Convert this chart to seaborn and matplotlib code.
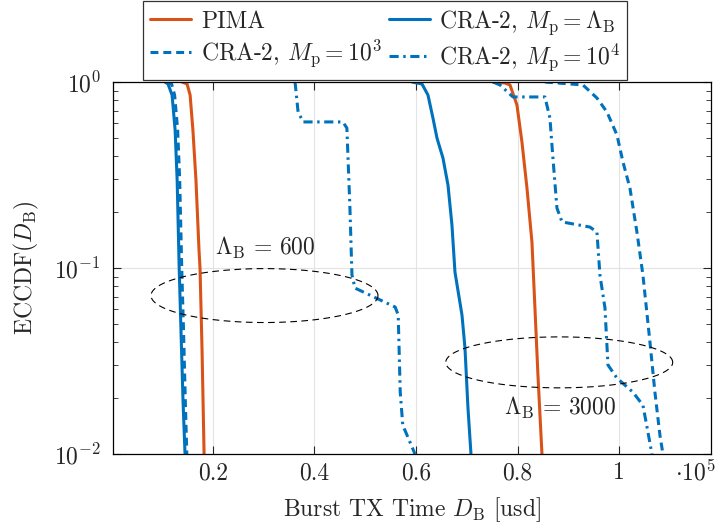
import numpy as np
import pandas as pd
import matplotlib
matplotlib.use("Agg")
import matplotlib.pyplot as plt
import seaborn as sns
from matplotlib.ticker import FixedLocator, FuncFormatter, LogLocator

sns.set_theme(style="ticks")
plt.rcParams["font.family"] = ["cmr10", "DejaVu Serif"]
plt.rcParams["mathtext.fontset"] = "cm"
plt.rcParams["axes.formatter.use_mathtext"] = True
FS = 17
plt.rcParams["font.size"] = FS

ORANGE = "#D95319"
BLUE = "#0072BD"

# --- data (x in usd, y = ECCDF) ---
# Lambda_B = 600
pima_600_x = [13950, 14950, 15550, 16100, 16700, 17300, 17500, 17900, 18300]
pima_600_y = [1.0, 0.976, 0.851, 0.552, 0.297, 0.125, 0.100, 0.0362, 0.01]
cra_lb_600_x = [10600, 11200, 12000, 12600, 13000, 13400, 13750, 14150, 14550]
cra_lb_600_y = [1.0, 0.976, 0.851, 0.552, 0.297, 0.100, 0.0464, 0.0195, 0.01]
cra_1e3_600_x = [11000, 11900, 12500, 13100, 13500, 13900, 14250, 14600, 14900]
cra_1e3_600_y = [1.0, 0.976, 0.851, 0.552, 0.297, 0.100, 0.0464, 0.0195, 0.01]
cra_1e4_600_x = [36200, 36800, 37800, 45600, 46400, 47000, 47400, 48000,
                 55900, 56500, 56900, 57400, 59800]
cra_1e4_600_y = [1.0, 0.69, 0.61, 0.61, 0.566, 0.21, 0.0917, 0.078,
                 0.0617, 0.0559, 0.0215, 0.0143, 0.01]

# Lambda_B = 3000
pima_3000_x = [75150, 77500, 78500, 79870, 80850, 81840, 82820, 83410, 84000, 84790]
pima_3000_y = [1.0, 0.988, 0.964, 0.752, 0.476, 0.269, 0.138, 0.061, 0.0266, 0.01]
cra_lb_3000_x = [59200, 61180, 62360, 63340, 64130, 65310, 66300, 67080,
                 67670, 69050, 69640, 70230, 70820]
cra_lb_3000_y = [1.0, 0.976, 0.851, 0.640, 0.500, 0.390, 0.279, 0.170,
                 0.0952, 0.0559, 0.0372, 0.0177, 0.01]
cra_1e3_3000_x = [85380, 92860, 95610, 97580, 99550, 100730, 102100, 103480,
                  104660, 106040, 107020, 108010, 108600]
cra_1e3_3000_y = [1.0, 0.964, 0.820, 0.690, 0.519, 0.372, 0.269, 0.156,
                  0.0917, 0.040, 0.0215, 0.0126, 0.01]
cra_1e4_3000_x = [75150, 76530, 79080, 85380, 86360, 86950, 87740, 88730, 94230,
                  95610, 96200, 97190, 97780, 99550, 102690, 104660, 105650, 106430]
cra_1e4_3000_y = [1.0, 0.964, 0.831, 0.831, 0.640, 0.390, 0.210, 0.177, 0.166,
                  0.156, 0.0917, 0.061, 0.0301, 0.0256, 0.0215, 0.0183, 0.0131, 0.01]

# annotation ellipses: center x, center y, half width (usd), half height (decades)
ell_600 = (30190, 0.0711, 22330, 0.145)
ell_3000 = (88190, 0.0311, 22330, 0.137)

x_ticks = [20000, 40000, 60000, 80000, 100000]

# --- plotting ---
fig = plt.figure(figsize=(7.2, 5.25), dpi=100)
ax = fig.add_axes([0.1574, 0.1352, 0.8297, 0.7086])

lw = 2.2
dashed = (0, (2.6, 1.6))
dashdot = (0, (3.0, 1.5, 0.8, 1.5))

series = [
    (pima_600_x, pima_600_y, ORANGE, "-", "PIMA"),
    (cra_lb_600_x, cra_lb_600_y, BLUE, "-", r"CRA-2, $M_\mathrm{p} = \Lambda_\mathrm{B}$"),
    (cra_1e3_600_x, cra_1e3_600_y, BLUE, dashed, r"CRA-2, $M_\mathrm{p} = 10^3$"),
    (cra_1e4_600_x, cra_1e4_600_y, BLUE, dashdot, r"CRA-2, $M_\mathrm{p} = 10^4$"),
    (pima_3000_x, pima_3000_y, ORANGE, "-", None),
    (cra_lb_3000_x, cra_lb_3000_y, BLUE, "-", None),
    (cra_1e3_3000_x, cra_1e3_3000_y, BLUE, dashed, None),
    (cra_1e4_3000_x, cra_1e4_3000_y, BLUE, dashdot, None),
]

handles = {}
for xs, ys, col, ls, lab in series:
    df = pd.DataFrame({"x": xs, "y": ys})
    sns.lineplot(data=df, x="x", y="y", sort=False, estimator=None, ax=ax,
                 color=col, linestyle=ls, linewidth=lw, legend=False)
    if lab is not None:
        handles[lab] = ax.get_lines()[-1]

# dashed ellipses around the two groups
t = np.linspace(0, 2 * np.pi, 300)
for cx, cy, a, b in [ell_600, ell_3000]:
    ax.plot(cx + a * np.cos(t), 10 ** (np.log10(cy) + b * np.sin(t)),
            color="black", linewidth=0.8, linestyle=(0, (6, 4)))

ax.text(30300, 0.128, r"$\Lambda_\mathrm{B}\,=\,600$", ha="center", va="center", fontsize=FS)
ax.text(88400, 0.0177, r"$\Lambda_\mathrm{B}\,=\,3000$", ha="center", va="center", fontsize=FS)

ax.set_yscale("log")
ax.set_ylim(1e-2, 1)
ax.set_xlim(440, 118000)
ax.xaxis.set_major_locator(FixedLocator(x_ticks))
ax.xaxis.set_major_formatter(FuncFormatter(lambda v, p: f"{v / 1e5:g}"))
ax.yaxis.set_major_locator(LogLocator(base=10, numticks=5))
ax.yaxis.set_minor_locator(LogLocator(base=10, subs=np.arange(2, 10), numticks=10))

ax.grid(True, which="major", color="#e3e3e3", linewidth=0.8)
ax.set_axisbelow(True)
ax.tick_params(which="both", direction="in", top=True, right=True, labelsize=FS)
ax.tick_params(axis="x", which="major", pad=6)
ax.tick_params(axis="y", which="major", pad=9)
ax.tick_params(which="major", length=6, width=0.8)
ax.tick_params(which="minor", length=3.5, width=0.6)
for s in ax.spines.values():
    s.set_linewidth(0.9)
    s.set_color("black")

ax.text(1.008, -0.051, r"$\cdot 10^5$", transform=ax.transAxes,
        ha="right", va="center", fontsize=FS)

ax.set_xlabel(r"Burst TX Time $D_\mathrm{B}$ [usd]", fontsize=FS, labelpad=8)
ax.set_ylabel(r"ECCDF($D_\mathrm{B}$)", fontsize=FS, labelpad=9)

order = ["PIMA", r"CRA-2, $M_\mathrm{p} = 10^3$",
         r"CRA-2, $M_\mathrm{p} = \Lambda_\mathrm{B}$", r"CRA-2, $M_\mathrm{p} = 10^4$"]
leg = fig.legend([handles[k] for k in order], order, ncol=2, loc="upper left",
                 bbox_to_anchor=(0.1986, 0.998), fancybox=False, framealpha=1,
                 edgecolor="#333333", handlelength=1.75, columnspacing=0.3,
                 handletextpad=0.4, borderpad=0.3, labelspacing=0.2, fontsize=FS,
                 borderaxespad=0)
leg.get_frame().set_linewidth(0.9)

fig.savefig("out.png", dpi=100)
